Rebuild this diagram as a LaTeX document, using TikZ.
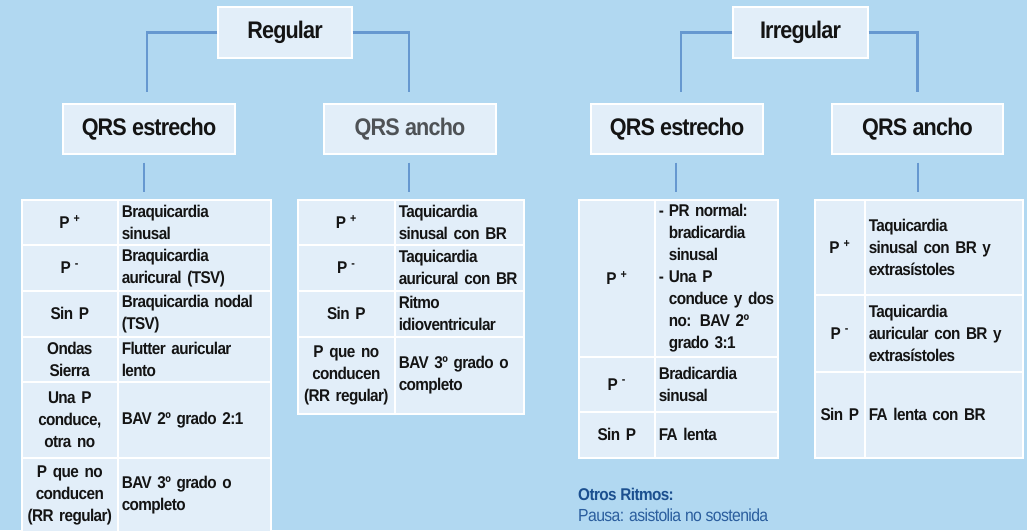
\documentclass[tikz,border=0pt]{standalone}
\usepackage{fontspec}
\setmainfont{Liberation Sans}[FakeStretch=0.9, LetterSpace=-3.5]
\definecolor{bg}{HTML}{B1D8F1}
\definecolor{boxfill}{HTML}{E2EEF9}
\definecolor{conncol}{HTML}{6698D0}
\definecolor{txt}{HTML}{141414}
\definecolor{greytxt}{HTML}{4E5256}
\definecolor{darkblue}{HTML}{1B4F8F}
\definecolor{midblue}{HTML}{2B5E9E}
\newcommand\mycellfont{\fontsize{17}{22}\selectfont\bfseries\spaceskip=3.8pt plus 1pt minus 0.5pt\relax}
\newcommand\myplainfont{\fontsize{17.5}{22}\selectfont\spaceskip=3.8pt plus 1pt minus 0.5pt\relax}
\newcommand\mytitlefont{\fontsize{24}{28}\selectfont\bfseries\spaceskip=5.2pt plus 1pt minus 0.5pt\relax}
\newcommand\Pplus{P\hspace{4pt}\textsuperscript{+}}
\newcommand\Pminus{P\hspace{4pt}\textsuperscript{-}}
\begin{document}
\begin{tikzpicture}[x=1pt,y=-1pt,
  tbox/.style={draw=white, line width=1.3pt, fill=boxfill, inner sep=0pt,
    minimum height=51pt, font=\mytitlefont, text=txt},
  qbox/.style={tbox, minimum width=172pt, minimum height=50pt},
  connector/.style={draw=conncol, line width=2.6pt},
  cell/.style={draw=white, line width=1.6pt, fill=boxfill, anchor=north west,
    inner xsep=4pt, inner ysep=0pt, font=\mycellfont, text=txt},
  lcell/.style={cell, align=center},
  rcell/.style={cell, align=left},
  note/.style={anchor=base west, inner sep=0pt}
]
\clip (0,0) rectangle (1027,530);
\fill[bg] (0,0) rectangle (1027,530);

% title boxes
\node[tbox, minimum width=134pt] (reg) at (285,32.5) {Regular};
\node[tbox, minimum width=135pt] (irr) at (800.5,32.5) {Irregular};
\node[qbox] (qeL) at (149,129) {QRS estrecho};
\node[qbox, text=greytxt] (qaL) at (410,129) {QRS ancho};
\node[qbox] (qeR) at (677,129) {QRS estrecho};
\node[qbox, minimum width=171pt] (qaR) at (917.5,129) {QRS ancho};

% connectors top
\draw[connector, shorten >=11pt] (reg.west) -| ([xshift=-2pt]qeL.north);
\draw[connector, shorten >=11pt] (reg.east) -| ([xshift=-1pt]qaL.north);
\draw[connector, shorten >=11pt] (irr.west) -| ([xshift=4pt]qeR.north);
\draw[connector, shorten >=11pt] (irr.east) -| (qaR.north);

% table 1
\node[lcell, text width=88pt, minimum height=45pt] (a1) at (21,199) {\Pplus};
\node[rcell, text width=145pt, minimum height=45pt] (b1) at (117,199) {Braquicardia\\sinusal};
\node[lcell, text width=88pt, minimum height=46pt] (a2) at (21,244) {\Pminus};
\node[rcell, text width=145pt, minimum height=46pt] (b2) at (117,244) {Braquicardia\\auricural (TSV)};
\node[lcell, text width=88pt, minimum height=46pt] (a3) at (21,290) {Sin P};
\node[rcell, text width=145pt, minimum height=46pt] (b3) at (117,290) {Braquicardia nodal\\(TSV)};
\node[lcell, text width=88pt, minimum height=45pt] (a4) at (21,336) {Ondas\\Sierra};
\node[rcell, text width=145pt, minimum height=45pt] (b4) at (117,336) {Flutter auricular\\lento};
\node[lcell, text width=88pt, minimum height=76pt] (a5) at (21,381) {Una P\\conduce,\\otra no};
\node[rcell, text width=145pt, minimum height=76pt] (b5) at (117,381) {BAV 2º grado 2:1};
\node[lcell, text width=88pt, minimum height=75pt] (a6) at (21,457) {P que no\\conducen\\(RR regular)};
\node[rcell, text width=145pt, minimum height=75pt] (b6) at (117,457) {BAV 3º grado o\\completo};

% table 2
\node[lcell, text width=89pt, minimum height=45pt] (c1) at (297,199) {\Pplus};
\node[rcell, text width=121pt, minimum height=45pt] (d1) at (394,199) {Taquicardia\\sinusal con BR};
\node[lcell, text width=89pt, minimum height=46pt] (c2) at (297,244) {\Pminus};
\node[rcell, text width=121pt, minimum height=46pt] (d2) at (394,244) {Taquicardia\\auricural con BR};
\node[lcell, text width=89pt, minimum height=46pt] (c3) at (297,290) {Sin P};
\node[rcell, text width=121pt, minimum height=46pt] (d3) at (394,290) {Ritmo\\idioventricular};
\node[lcell, text width=89pt, minimum height=77pt] (c4) at (297,336) {P que no\\conducen\\(RR regular)};
\node[rcell, text width=121pt, minimum height=77pt] (d4) at (394,336) {BAV 3º grado o\\completo};

% table 3
\node[lcell, text width=68pt, minimum height=157pt] (e1) at (578,199) {\Pplus};
\node[rcell, text width=115pt, minimum height=157pt] (f1) at (654,199)
  {\begin{tabular}{@{}l@{\hspace{5pt}}l@{}}
   -&PR normal:\\ &bradicardia\\ &sinusal\\ -&Una P\\ &conduce y dos\\ &no: BAV 2º\\ &grado 3:1
   \end{tabular}};
\node[lcell, text width=68pt, minimum height=55pt] (e2) at (578,356) {\Pminus};
\node[rcell, text width=115pt, minimum height=55pt] (f2) at (654,356) {Bradicardia\\sinusal};
\node[lcell, text width=68pt, minimum height=46pt] (e3) at (578,411) {Sin P};
\node[rcell, text width=115pt, minimum height=46pt] (f3) at (654,411) {FA lenta};

% table 4
\node[lcell, text width=42pt, minimum height=95pt] (g1) at (814,199) {\Pplus};
\node[rcell, text width=150pt, minimum height=95pt] (h1) at (864,199) {Taquicardia\\sinusal con BR y\\extrasístoles};
\node[lcell, text width=42pt, minimum height=77pt] (g2) at (814,294) {\Pminus};
\node[rcell, text width=150pt, minimum height=77pt] (h2) at (864,294) {Taquicardia\\auricular con BR y\\extrasístoles};
\node[lcell, text width=42pt, minimum height=86pt] (g3) at (814,371) {Sin P};
\node[rcell, text width=150pt, minimum height=86pt] (h3) at (864,371) {FA lenta con BR};

% connectors below
\draw[connector, shorten <=8pt, shorten >=7pt] ([xshift=-5pt]qeL.south) -- ([xshift=-5pt]qeL.south |- a1.north);
\draw[connector, shorten <=8pt, shorten >=7pt] ([xshift=-1pt]qaL.south) -- ([xshift=-1pt]qaL.south |- c1.north);
\draw[connector, shorten <=8pt, shorten >=7pt] ([xshift=-1pt]qeR.south) -- ([xshift=-1pt]qeR.south |- e1.north);
\draw[connector, shorten <=8pt, shorten >=7pt] ([xshift=0.5pt]qaR.south) -- ([xshift=0.5pt]qaR.south |- g1.north);

% notes
\node[note, font=\mycellfont, text=darkblue] (otros) at (578,500) {Otros Ritmos:};
\node[note, font=\myplainfont, text=midblue] (pausa) at (578,521.7) {Pausa: asistolia no sostenida};
\end{tikzpicture}
\end{document}
